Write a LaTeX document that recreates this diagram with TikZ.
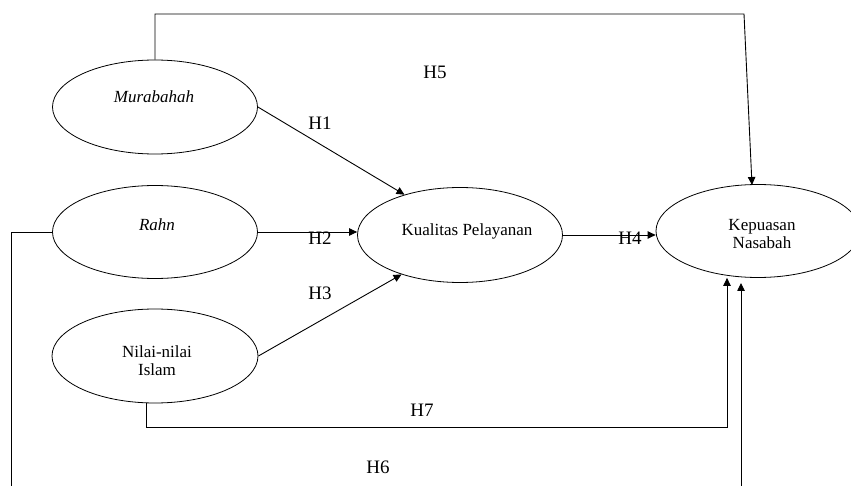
\documentclass[tikz,border=0pt]{standalone}
\usepackage{fontspec}
\setmainfont{Liberation Serif}
\usetikzlibrary{shapes.geometric,arrows.meta}
\begin{document}
\begin{tikzpicture}[x=1pt,y=-1pt,
  ell/.style={draw, ellipse, line width=0.8pt, inner sep=0pt},
  lbl/.style={font=\fontsize{17}{18}\selectfont, align=center, inner sep=0pt},
  hyp/.style={font=\fontsize{19}{20}\selectfont, inner sep=0pt},
  conn/.style={line width=0.9pt},
  arr/.style={conn, -{Triangle[length=8pt,width=7.5pt]}}]
\useasboundingbox (0,0) rectangle (851,486);
\clip (0,0) rectangle (851,486);
% ellipses
\node[ell, minimum width=205pt, minimum height=94pt] (M) at (155,107) {};
\node[ell, minimum width=205pt, minimum height=93pt] (R) at (155,232) {};
\node[ell, minimum width=206pt, minimum height=94pt] (N) at (155,356) {};
\node[ell, minimum width=205pt, minimum height=95pt] (K) at (460,235) {};
\node[ell, minimum width=204pt, minimum height=93pt] (KN) at (758,231) {};
% texts
\node[lbl] (Mt) at (154,97) {\itshape Murabahah};
\node[lbl] (Rt) at (157,225) {\itshape Rahn};
\node[lbl] (Nt) at (157,361) {Nilai-nilai\\Islam};
\node[lbl] (Kt) at (467,231) {Kualitas Pelayanan};
\node[lbl] (KNt) at (762,234) {Kepuasan\\Nasabah};
% coordinates
\coordinate (c5) at (744,14);
\coordinate (t5) at (752,185);
\coordinate (c7) at (727,427);
\coordinate (c6) at (11,520);
\coordinate (t6) at (741,283);
% connectors
\draw[arr] (M.north) |- (c5) -- (t5);
\draw[arr] (M.east) -- (K.144);
\draw[arr] (R.east) -- (R.east -| K.west);
\draw[arr] (N.east) -- (K.214);
\draw[arr] (K.east) -- (K.east -| KN.west);
\draw[arr] (N.260) |- (c7) -- (c7 |- KN.south);
\draw[arr] (R.west) -| (c6) -| (t6);
% hypothesis labels
\node[hyp] (H1) at (320,123) {H1};
\node[hyp] (H2) at (320,238) {H2};
\node[hyp] (H3) at (320,293) {H3};
\node[hyp] (H4) at (630,238) {H4};
\node[hyp] (H5) at (435,72) {H5};
\node[hyp] (H6) at (378,467) {H6};
\node[hyp] (H7) at (422,410) {H7};
\end{tikzpicture}
\end{document}
